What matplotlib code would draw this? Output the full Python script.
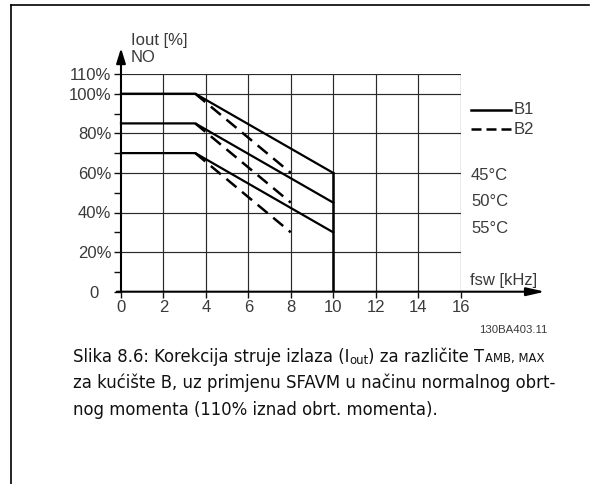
import matplotlib
matplotlib.use("Agg")
import matplotlib.pyplot as plt
from matplotlib.lines import Line2D
from matplotlib.transforms import ScaledTranslation

# ---------------- data ----------------
fsw_ticks = [0, 2, 4, 6, 8, 10, 12, 14, 16]
iout_ticks = [0, 20, 40, 60, 80, 100, 110]
iout_tick_labels = ["0", "20%", "40%", "60%", "80%", "100%", "110%"]
iout_minor = [10, 30, 50, 70, 90]

temps = ["45°C", "50°C", "55°C"]
b1_fsw = [0, 3.5, 10]
b1_iout = {"45°C": [100, 100, 60], "50°C": [85, 85, 45], "55°C": [70, 70, 30]}
b2_fsw = [3.5, 8]
b2_iout = {"45°C": [100, 60], "50°C": [85, 45], "55°C": [70, 30]}
cutoff_fsw = 10
cutoff_iout = [60, 0]

W, H = 591, 484
DPI = 100
fig = plt.figure(figsize=(W / DPI, H / DPI), dpi=DPI)
fig.patch.set_facecolor("white")

def fx(x):
    return x / W

def fy(y):
    return 1 - y / H

TXT = "#3a3a3a"
FONT = "Liberation Sans"

# axes position (pixel mapping)
x0, x16 = 121, 460.5
y0, y110 = 291.7, 73.9
ax = fig.add_axes([fx(x0), fy(y0), (x16 - x0) / W, (y0 - y110) / H])
ax.set_xlim(0, 16)
ax.set_ylim(0, 110)
for s in ax.spines.values():
    s.set_visible(False)
ax.set_facecolor("none")

# grid
for x in fsw_ticks[1:]:
    ax.plot([x, x], [0, 110], color="#2a2a2a", lw=0.85, zorder=1)
for y in iout_ticks[1:]:
    ax.plot([0, 16], [y, y], color="#2a2a2a", lw=0.85, zorder=1)

# ticks
ax.set_xticks(fsw_ticks)
ax.set_xticklabels([str(t) for t in fsw_ticks])
ax.set_yticks(iout_ticks)
ax.set_yticklabels(iout_tick_labels)
ax.set_yticks(iout_minor, minor=True)
ax.tick_params(axis="x", length=4, width=1.0, pad=2, labelsize=12, labelcolor=TXT, color="#111")
ax.tick_params(axis="y", which="both", length=5, width=1.0, pad=2, labelsize=12, labelcolor=TXT, color="#111")
for lab in ax.get_xticklabels() + ax.get_yticklabels():
    lab.set_fontfamily(FONT)
ylabs = ax.get_yticklabels()
ylabs[0].set_transform(ylabs[0].get_transform() + ScaledTranslation(-13 / DPI, 0, fig.dpi_scale_trans))

# axis arrows
ax.annotate("", xy=(0, 123), xytext=(0, 0), xycoords="data",
            arrowprops=dict(arrowstyle="-|>,head_length=0.9,head_width=0.28", color="black",
                            lw=1.5, shrinkA=0, shrinkB=0), annotation_clip=False)
ax.annotate("", xy=(19.98, 0), xytext=(-0.2, 0), xycoords="data",
            arrowprops=dict(arrowstyle="-|>,head_length=1.1,head_width=0.25", color="black",
                            lw=1.5, shrinkA=0, shrinkB=0), annotation_clip=False)

# curves
for t in temps:
    ax.plot(b1_fsw, b1_iout[t], color="black", lw=1.6, solid_joinstyle="miter",
            zorder=3, clip_on=False)
    ax.plot(b2_fsw, b2_iout[t], color="black", lw=1.8, dashes=(5.2, 2.9),
            zorder=3, clip_on=False)
ax.plot([cutoff_fsw, cutoff_fsw], cutoff_iout, color="black", lw=1.8, zorder=3)

# axis labels
fig.text(fx(131), fy(45), "Iout [%]", fontsize=12, family=FONT, color=TXT, va="baseline")
fig.text(fx(131), fy(62), "NO", fontsize=12, family=FONT, color=TXT, va="baseline")
fig.text(fx(470.5), fy(285), "fsw [kHz]", fontsize=12, family=FONT, color=TXT, va="baseline")

# legend
fig.add_artist(Line2D([fx(471), fx(511)], [fy(110), fy(110)], color="black", lw=1.8))
fig.add_artist(Line2D([fx(471), fx(511)], [fy(129), fy(129)], color="black", lw=1.8,
                      dashes=(4.0, 2.0)))
fig.text(fx(514), fy(110), "B1", fontsize=12, family=FONT, color=TXT, va="center")
fig.text(fx(514), fy(129), "B2", fontsize=12, family=FONT, color=TXT, va="center")

for t, yy in zip(temps, [175, 202, 229]):
    fig.text(fx(471), fy(yy), t, fontsize=12, family=FONT, color=TXT, va="center")

fig.text(fx(547), fy(330), "130BA403.11", fontsize=8.2, family=FONT, color=TXT,
         va="center", ha="right")

# frame
fig.add_artist(Line2D([fx(11), fx(11)], [fy(5), fy(484)], color="black", lw=1.2))
fig.add_artist(Line2D([fx(11), fx(589)], [fy(5), fy(5)], color="black", lw=1.2))

# caption (piecewise for sub/small-caps pieces)
CAP = "DejaVu Sans"
cs = 11.9
small = 8.4
renderer = fig.canvas.get_renderer()

def run(pieces, x, ybase):
    for txt, size, dy in pieces:
        t = fig.text(fx(x), fy(ybase + dy), txt, fontsize=size, family=CAP,
                     color="#111111", va="baseline", ha="left")
        bb = t.get_window_extent(renderer=renderer)
        x += bb.width

run([("Slika 8.6: Korekcija struje izlaza (I", cs, 0), ("out", small, 1.5),
     (") za različite T", cs, 0), ("AMB, MAX", small, 0)], 73, 362)
run([("za kućište B, uz primjenu SFAVM u načinu normalnog obrt-", cs, 0)], 73, 388.5)
run([("nog momenta (110% iznad obrt. momenta).", cs, 0)], 73, 415)

fig.savefig("out.png", dpi=DPI, facecolor="white")
